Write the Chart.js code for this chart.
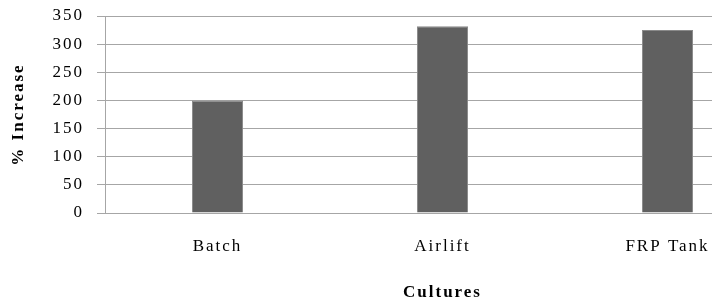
<!DOCTYPE html>
<html>
<head>
<meta charset="utf-8">
<script src="https://cdn.jsdelivr.net/npm/chart.js@4/dist/chart.umd.min.js"></script>
<style>
    html, body { margin: 0; padding: 0; background: #fff; overflow: hidden; }
    #wrap { position: relative; width: 780px; height: 304px; }
</style>
</head>
<body>
<div id="wrap"><canvas id="chart"></canvas></div>
<script>
// % increase by culture system
const cultures = ['Batch', 'Airlift', 'FRP Tank'];
const increase = [200, 332, 325];
const yTicks = [0, 50, 100, 150, 200, 250, 300, 350];

const serif = "'Liberation Serif', 'DejaVu Serif', serif";

// the original text is rendered with wide letter spacing
const spacing = {
    id: 'spacing',
    beforeLayout(chart) { chart.ctx.letterSpacing = '2px'; },
    beforeDraw(chart) { chart.ctx.letterSpacing = '2px'; }
};

new Chart(document.getElementById('chart'), {
    type: 'bar',
    data: {
        labels: cultures,
        datasets: [{
            data: increase,
            backgroundColor: '#606060',
            borderColor: '#8a8a8a',
            borderWidth: 1,
            categoryPercentage: 1,
            barPercentage: 0.227
        }]
    },
    plugins: [spacing],
    options: {
        responsive: true,
        maintainAspectRatio: false,
        animation: false,
        layout: { padding: { top: 16, right: 0, bottom: 0, left: 0 } },
        plugins: { legend: { display: false }, tooltip: { enabled: false } },
        scales: {
            x: {
                afterFit: s => { s.height = 91; },
                grid: { display: false, drawTicks: false },
                border: { display: false },
                ticks: { color: '#000', font: { family: serif, size: 17 }, padding: 23.8, maxRotation: 0, autoSkip: false },
                title: { display: true, text: 'Cultures', color: '#000', font: { family: serif, size: 17, weight: 'bold' }, padding: { top: 0, bottom: 1 } }
            },
            y: {
                min: 0,
                max: 350,
                afterFit: s => { s.width = 105; s.paddingTop = 0; s.paddingBottom = 0; },
                afterBuildTicks: s => { s.ticks = yTicks.map(v => ({ value: v })); },
                grid: { color: '#a6a6a6', lineWidth: 1, tickLength: 8 },
                border: { display: true, color: '#a6a6a6', width: 1 },
                ticks: { color: '#000', font: { family: serif, size: 17 }, padding: 13 },
                title: { display: true, text: '% Increase', color: '#000', font: { family: serif, size: 17, weight: 'bold' }, padding: { top: 8.3, bottom: 0 } }
            }
        }
    }
});
</script>
</body>
</html>
